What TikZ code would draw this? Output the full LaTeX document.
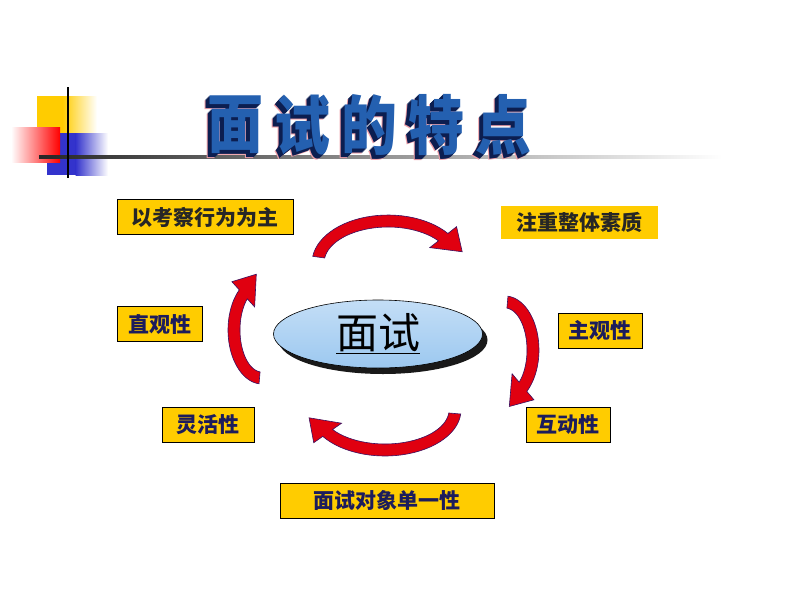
\documentclass[tikz,border=0pt]{standalone}
\usepackage{fontspec}
\setmainfont{Liberation Sans}
\newfontfamily\cjk{Noto Sans CJK SC}
\usepackage{tikz}
\usetikzlibrary{shapes.geometric,shadows,positioning}
\definecolor{boxgold}{HTML}{FFCC00}
\definecolor{labelnavy}{HTML}{1C1C5C}
\definecolor{titleblue}{HTML}{2460B0}
\definecolor{titledark}{HTML}{0C1E50}
\definecolor{titlepink}{HTML}{F0A0A8}
\definecolor{arrowred}{HTML}{E00010}
\definecolor{arrowedge}{HTML}{3A1060}
\definecolor{ovalblue}{HTML}{9CC8F0}
\definecolor{logoblue}{HTML}{3333CC}
\tikzstyle{label box} = [draw=black, line width=0.8pt, fill=boxgold, minimum height=35pt, inner sep=0pt, font=\cjk\bfseries\fontsize{21}{21}\selectfont, text=labelnavy]
\tikzstyle{arrowbody} = [fill=arrowred, draw=arrowedge, line width=0.6pt]
\tikzstyle{titlechar} = [inner sep=0pt, yscale=1.15, transform shape, font=\cjk\bfseries\fontsize{56}{56}\selectfont]
% curved block arrow: cx, cy, rx, ry, start angle, end angle
\newcommand\cyclearrow[6]{%
  \pgfmathsetmacro\tanx{-(#3)*sin(#6)}
  \pgfmathsetmacro\tany{(#4)*cos(#6)}
  \pgfmathsetmacro\tann{sqrt(\tanx*\tanx+\tany*\tany)}
  \filldraw[arrowbody] plot[domain=#5:#6, samples=30, variable=\t] ({#1+(#3+6)*cos(\t)},{#2+(#4+6)*sin(\t)})
    -- ({#1+(#3+17)*cos(#6)},{#2+(#4+17)*sin(#6)})
    -- ({#1+#3*cos(#6)+24*\tanx/\tann},{#2+#4*sin(#6)+24*\tany/\tann})
    -- ({#1+(#3-17)*cos(#6)},{#2+(#4-17)*sin(#6)})
    -- plot[domain=#6:#5, samples=30, variable=\t] ({#1+(#3-6)*cos(\t)},{#2+(#4-6)*sin(\t)}) -- cycle;
}

\begin{document}
\begin{tikzpicture}[x=1pt, y=-1pt]
	\useasboundingbox[fill=white] (0,0) rectangle (800,600);

	% logo
	\fill[boxgold] (37,96) rectangle (63,133);
	\shade[left color=boxgold, right color=white] (62.5,96) rectangle (97,133);
	\fill[logoblue] (47,133) rectangle (76,175);
	\shade[left color=logoblue, right color=white] (75.5,133) rectangle (108,175);
	\shade[left color=white, right color=red] (11,127) rectangle (60,162);
	\shade[left color=black!85, right color=white] (39,155.5) rectangle (722,158.5);
	\draw[line width=2pt] (68,87) -- (68,178);

	% title
	\foreach \c [count=\i] in {面,试,的,特,点}{
		\node[titlechar, text=titlepink] (title\i-pink) at ({168+67*\i-5},{125+5}) {\c};
		\foreach \k in {4,3,2,1}
			\node[titlechar, text=titledark] (title\i-side\k) at ({168+67*\i-\k},{125+\k}) {\c};
		\node[titlechar, text=titleblue] (title\i) at ({168+67*\i},125) {\c};
	}

	% centre
	\node[ellipse, draw=black, line width=0.6pt, minimum width=209pt, minimum height=68pt,
		top color=ovalblue!60, middle color=white, bottom color=ovalblue,
		drop shadow={shadow xshift=5pt, shadow yshift=-6pt, fill=black, opacity=0.9},
		font=\cjk\fontsize{42}{42}\selectfont] (interview) at (378,334) {\underline{面试}};

	% features
	\node[label box, minimum width=176pt, text=black!85] (behaviour) at (205,217) {以考察行为为主};
	\node[label box, draw=none, minimum width=157pt, minimum height=33pt, text=black!85] (quality) at (579.5,222.5) {注重整体素质};
	\node[label box, minimum width=84pt] (subjective) at (600,330.5) {主观性};
	\node[label box, minimum width=84pt] (interactive) at (568,425) {互动性};
	\node[label box, minimum width=85pt] (intuitive) at (159.5,324) {直观性};
	\node[label box, minimum width=92pt] (flexible) at (208,425) {灵活性};
	\node[label box, minimum width=214pt] (single) at (387,500.5) {面试对象单一性};

	% cycle arrows
	\cyclearrow{388}{263}{70}{42}{188}{322}
	\cyclearrow{505}{350}{28}{48}{-85}{50}
	\cyclearrow{385}{410}{70}{40}{5}{145}
	\cyclearrow{262}{330}{28}{48}{95}{228}
\end{tikzpicture}
\end{document}
